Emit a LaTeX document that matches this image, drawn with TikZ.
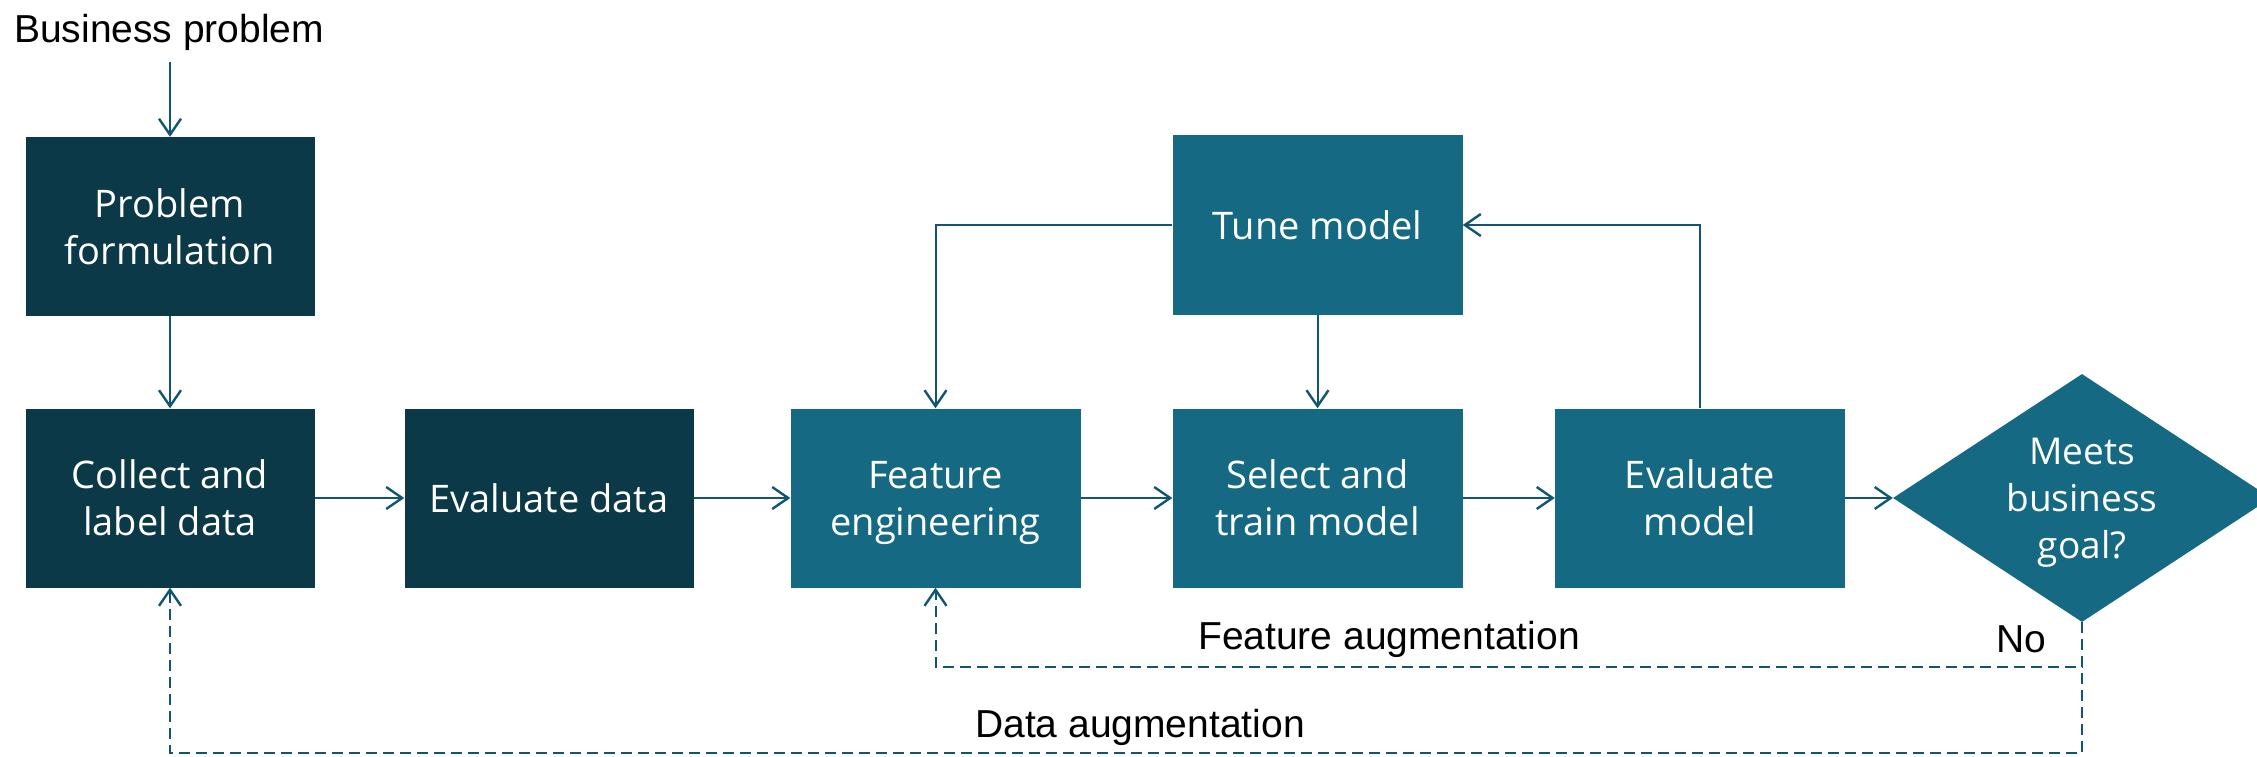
\documentclass[tikz,border=0pt]{standalone}
\usepackage{fontspec}
\setmainfont{Liberation Sans}
\newfontfamily\boxfont{Open Sans}
\usetikzlibrary{arrows.meta,shapes.geometric}
\definecolor{darkbox}{RGB}{12,57,72}
\definecolor{tealbox}{RGB}{21,105,131}
\definecolor{arrowc}{RGB}{17,85,115}
\tikzset{
  boxbase/.style={rectangle, inner sep=0pt, minimum height=179pt, text=white, align=center,
    font=\boxfont\fontsize{38}{47}\selectfont},
  darkstep/.style={boxbase, fill=darkbox, minimum width=289pt},
  tealstep/.style={boxbase, fill=tealbox, minimum width=290pt},
  decision/.style={diamond, aspect=1.524, fill=tealbox, inner sep=0pt, minimum width=378pt, minimum height=248pt,
    text=white, align=center, font=\boxfont\fontsize{37}{47}\selectfont},
  conn/.style={draw=arrowc, line width=2pt, -{Straight Barb[length=16pt,width=22pt,line width=2.4pt]}},
  dconn/.style={conn, dash pattern=on 11pt off 6pt},
  lbl/.style={font=\fontsize{39}{42}\selectfont, text=black, inner sep=0pt}
}
\begin{document}
\begin{tikzpicture}[x=1pt,y=-1pt]
\useasboundingbox (0,0) rectangle (2257,757);
\node[lbl, anchor=base west] (bp) at (14,43) {Business problem};
\node[darkstep] (pf) at (170,226.5) {Problem\\formulation};
\node[darkstep] (cl) at (170,498) {Collect and\\label data};
\node[darkstep] (ed) at (549,498) {Evaluate data};
\node[tealstep] (fe) at (935.5,498) {Feature\\\smash{engineering}};
\node[tealstep] (st) at (1317.5,498) {Select and\\train model};
\node[tealstep] (em) at (1700,498) {Evaluate\\model};
\node[tealstep] (tm) at (1317.5,225) {Tune model};
\node[decision] (dg) at (2082,498) {Meets\\business\\\smash{goal?}};
\coordinate (bpe) at (170,62);
\coordinate (c1) at (2082,667);
\coordinate (c2) at (2082,753);
\node[lbl] (fa) at (1389,639) {Feature augmentation};
\node[lbl] (no) at (2021,639) {No};
\node[lbl] (da) at (1140,727) {Data augmentation};
\draw[conn] (bpe) -- (pf.north);
\draw[conn] (pf) -- (cl);
\draw[conn] (cl) -- (ed);
\draw[conn] (ed) -- (fe);
\draw[conn] (fe) -- (st);
\draw[conn] (st) -- (em);
\draw[conn] (em) -- (dg);
\draw[conn] (tm) -- (st);
\draw[conn] (tm.west) -| (fe.north);
\draw[conn] (em.north) |- (tm.east);
\draw[dconn] (dg.south) -- (c1) -| (fe.south);
\draw[dconn] (dg.south) -- (c2) -| (cl.south);
\end{tikzpicture}
\end{document}
